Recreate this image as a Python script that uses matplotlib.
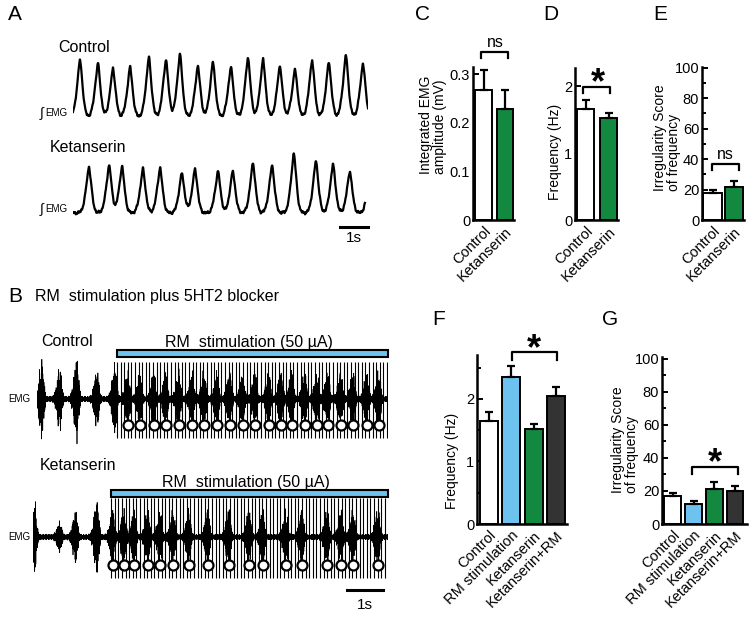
import numpy as np
import matplotlib.pyplot as plt
from matplotlib.patches import Rectangle

W, H = 754, 623
plt.rcParams['font.family'] = ['Liberation Sans', 'DejaVu Sans']

# ---------------- data ----------------
# A: integrated EMG peaks (time in s, amplitude in a.u.)
a_ctrl_t = [0.25, 0.89, 1.43, 2.04, 2.71, 3.32, 3.82, 4.46, 5.00, 5.64,
            6.25, 6.79, 7.39, 7.93, 8.54, 9.14, 9.75, 10.36]
a_ctrl_amp = [1.04, 0.98, 0.89, 0.91, 1.09, 1.05, 1.15, 0.93, 1.00, 0.91,
              1.09, 1.05, 0.93, 0.87, 1.04, 1.00, 1.13, 0.98]
a_ket_t = [-0.35, 0.57, 1.29, 1.75, 2.50, 3.11, 3.89, 4.36, 5.18, 5.71,
           6.43, 7.11, 7.89, 8.68, 9.29, 9.89, 10.62]
a_ket_amp = [0.85, 0.84, 0.87, 0.85, 0.80, 0.82, 0.73, 0.80, 0.76, 0.76,
             0.91, 0.87, 1.09, 0.95, 0.89, 0.76, 0.80]

# B: raw EMG bursts before stimulation and breaths during RM stimulation
b_ctrl_pre_t = [0.14, 0.64, 1.11, 1.67, 2.17]
b_ctrl_pre_amp = [36, 29, 37, 25, 33]
b_ctrl_breaths = [2.53, 2.86, 3.25, 3.58, 3.94, 4.31, 4.64, 5.00, 5.36, 5.72,
                  6.06, 6.44, 6.78, 7.08, 7.44, 7.78, 8.08, 8.44, 8.78, 9.17, 9.50]
b_ctrl_stim = [2.22, 9.75]
b_ket_pre_t = [0.05, 0.75, 1.19, 1.78]
b_ket_pre_amp = [32, 13, 23, 33]
b_ket_breaths = [2.22, 2.53, 2.81, 3.19, 3.53, 3.89, 4.33, 4.86, 5.44, 6.00,
                 6.39, 7.03, 7.47, 8.17, 8.56, 8.89, 9.58]
b_ket_stim = [2.17, 9.86]
stim_hz = 10

# C-G: group means and SEM
cde_groups = ['Control', 'Ketanserin']
c_amp, c_err = [0.267, 0.228], [0.041, 0.039]
d_freq, d_err = [1.66, 1.52], [0.13, 0.08]
e_irr, e_err = [17.5, 21.5], [2.0, 4.3]
fg_groups = ['Control', 'RM stimulation', 'Ketanserin', 'Ketanserin+RM']
f_freq, f_err = [1.65, 2.35, 1.52, 2.05], [0.14, 0.18, 0.08, 0.14]
g_irr, g_err = [17.0, 12.2, 21.0, 20.0], [1.7, 1.5, 4.7, 3.0]

WHITE, BLUE, GREEN, DARK = 'white', '#6EC3EE', '#13893F', '#333333'

fig = plt.figure(figsize=(W / 100, H / 100), dpi=100)


def px_axes(x0, x1, y0, y1):
    return fig.add_axes([x0 / W, 1 - y1 / H, (x1 - x0) / W, (y1 - y0) / H])


def ftext(x, y, s, **kw):
    fig.text(x / W, 1 - y / H, s, **kw)


def integrated(t, peaks, amps):
    # small ripple on the baseline
    y = (0.02 * np.sin(2 * np.pi * 6.3 * t) * np.sin(2 * np.pi * 1.9 * t)
         + 0.012 * np.sin(2 * np.pi * 17.7 * t))
    for tp, a in zip(peaks, amps):
        d = t - tp
        sig = np.where(d < 0, 0.12, 0.10)
        y += a * (0.65 * np.exp(-0.5 * (d / sig) ** 2)
                  + 0.35 * np.exp(-(np.sqrt(d ** 2 + 0.02 ** 2) - 0.02) / 0.07))
    return y


def raw_emg(t, bt, ba):
    env = 2.5 + np.zeros_like(t)
    for tb, a in zip(bt, ba):
        d = t - tb
        sig = np.where(d < 0, 0.075, 0.045)
        env += a * np.exp(-0.5 * (d / sig) ** 2)
    spikes = np.abs(np.sin(2 * np.pi * 17.3 * t) * np.cos(2 * np.pi * 6.7 * t + 0.5)) ** 0.6
    mod = 0.3 + 0.7 * spikes
    carrier = 0.6 * np.sin(2 * np.pi * 187 * t) + 0.4 * np.sin(2 * np.pi * 311 * t + 1.1)
    return env * mod * carrier / 0.85


# ---------------- A ----------------
for (y0, y1, base, peaks, amps, tend) in [
        (45, 125, 117, a_ctrl_t, a_ctrl_amp, 10.54),
        (145, 245, 213, a_ket_t, a_ket_amp, 10.43)]:
    ax = px_axes(73, 368, y0, y1)
    t = np.linspace(0, tend, 3000)
    ax.plot(t, integrated(t, peaks, amps), color='black', lw=1.6)
    ax.set_xlim(0, 10.54)
    ax.set_ylim((base - y1) / 55, (base - y0) / 55)
    ax.axis('off')
    ftext(40, base - 1, '∫', fontsize=10, va='baseline')
    ftext(45, base - 1, 'EMG', fontsize=7, va='baseline')
    if peaks is a_ket_t:
        ax.plot([9.54, 10.54], [-0.255, -0.255], color='black', lw=2.2, clip_on=False)
        ax.text(10.04, -0.455, '1s', ha='center', va='center', fontsize=11)

ftext(8, 15, 'A', fontsize=15, va='center')
ftext(58, 47, 'Control', fontsize=11.5, va='center')
ftext(50, 147, 'Ketanserin', fontsize=11.5, va='center')

# ---------------- B ----------------
ftext(8, 296, 'B', fontsize=15, va='center')
ftext(35, 297, 'RM  stimulation plus 5HT2 blocker', fontsize=11.5, va='center')

for (x0, y0, y1, base, pre_t, pre_a, breaths, stim, tend, top, bot) in [
        (37, 330, 445, 399, b_ctrl_pre_t, b_ctrl_pre_amp, b_ctrl_breaths, b_ctrl_stim, 9.75, 42, 37),
        (33, 470, 615, 537, b_ket_pre_t, b_ket_pre_amp, b_ket_breaths, b_ket_stim, 9.86, 40, 39)]:
    ax = px_axes(x0, 388, y0, y1)
    t = np.arange(0, tend, 1 / 2000)
    sig = raw_emg(t, list(pre_t) + list(breaths), list(pre_a) + [24] * len(breaths))
    ax.plot(t, sig, color='black', lw=0.5)
    pulses = np.arange(stim[0], stim[1], 1 / stim_hz)
    ax.vlines(pulses, -bot - 2, bot, color='black', lw=0.8)
    ax.plot(breaths, [-bot + 11] * len(breaths), 'o', ms=7.2, mfc='white',
            mec='black', mew=1.6, zorder=5)
    ax.add_patch(Rectangle((stim[0], top), stim[1] - stim[0], 7, facecolor=BLUE,
                           edgecolor='black', lw=1.5, clip_on=False))
    ax.text((stim[0] + stim[1]) / 2 - 0.1, top + 15, 'RM  stimulation (50 µA)',
            ha='center', va='center', fontsize=11.5)
    ax.set_xlim(0, tend)
    ax.set_ylim(base - y1, base - y0)
    ax.axis('off')
    ftext(8, base, 'EMG', fontsize=7, va='center')
    if pre_t is b_ket_pre_t:
        ax.plot([8.72, 9.72], [-53, -53], color='black', lw=2.2, clip_on=False)
        ax.text(9.22, -68, '1s', ha='center', va='center', fontsize=11)

ftext(41, 342, 'Control', fontsize=11.5, va='center')
ftext(40, 465, 'Ketanserin', fontsize=11.5, va='center')


# ---------------- bar panels ----------------
def bar_panel(box, xlim, ylim, vals, errs, labels, colors, width, major, majlab, minor):
    ax = px_axes(*box)
    x = np.arange(len(vals))
    ax.bar(x, vals, width, color=colors, edgecolor='black', linewidth=1.4, zorder=2)
    ax.errorbar(x, vals, yerr=[np.zeros(len(vals)), errs], fmt='none', ecolor='black',
                elinewidth=1.6, capsize=3.2, capthick=1.6, zorder=3)
    ax.set_xlim(*xlim)
    ax.set_ylim(*ylim)
    for s in ['top', 'right']:
        ax.spines[s].set_visible(False)
    for s in ['left', 'bottom']:
        ax.spines[s].set_linewidth(1.8)
    ax.set_yticks(major, majlab)
    ax.set_yticks(minor, minor=True)
    ax.tick_params(axis='y', which='both', direction='in', width=1.4, pad=2, labelsize=10.5)
    ax.tick_params(axis='y', which='major', length=4)
    ax.tick_params(axis='y', which='minor', length=3)
    ax.set_xticks(x, labels, rotation=45, ha='right', rotation_mode='anchor', fontsize=10.5)
    ax.tick_params(axis='x', length=0, pad=3)
    return ax


def bracket(ax, x0, x1, ytop, ylow):
    ax.plot([x0, x0, x1, x1], [ylow, ytop, ytop, ylow], color='black', lw=1.6, clip_on=False)


ax = bar_panel((473, 514, 67, 220), (-0.49, 1.42), (0, 0.315), c_amp, c_err, cde_groups,
               [WHITE, GREEN], 0.79, [0, 0.1, 0.2, 0.3], ['0', '0.1', '0.2', '0.3'],
               np.arange(0, 0.31, 0.05))
bracket(ax, -0.12, 1.14, 0.345, 0.333)
ax.text(0.53, 0.365, 'ns', ha='center', va='center', fontsize=11.5)
ftext(433, 125, 'Integrated EMG\namplitude (mV)', fontsize=10, rotation=90,
      ha='center', va='center', multialignment='left', linespacing=0.95)
ftext(415, 15, 'C', fontsize=15, va='center')

ax = bar_panel((575, 618, 68, 220), (-0.46, 1.41), (0, 2.27), d_freq, d_err, cde_groups,
               [WHITE, GREEN], 0.74, [0, 1, 2], ['0', '1', '2'], np.arange(0, 2.3, 0.5))
bracket(ax, -0.11, 1.07, 1.985, 1.9)
ax.text(0.54, 1.9, '*', ha='center', va='baseline', fontsize=26, fontweight='bold')
ftext(555, 152, 'Frequency (Hz)', fontsize=10, rotation=90, ha='center', va='center')
ftext(543, 15, 'D', fontsize=15, va='center')

ax = bar_panel((702, 744, 67, 220), (-0.49, 1.47), (0, 100.5), e_irr, e_err, cde_groups,
               [WHITE, GREEN], 0.85, np.arange(0, 101, 20), [str(v) for v in range(0, 101, 20)],
               np.arange(0, 101, 10))
bracket(ax, -0.02, 1.23, 36.8, 32.9)
ax.text(0.6, 43, 'ns', ha='center', va='center', fontsize=11.5)
ftext(667, 138, 'Irregularity Score\nof frequency', fontsize=10, rotation=90,
      ha='center', va='center', multialignment='left', linespacing=0.95)
ftext(653, 15, 'E', fontsize=15, va='center')

ax = bar_panel((477, 567, 355, 524), (-0.54, 3.49), (0, 2.7), f_freq, f_err, fg_groups,
               [WHITE, BLUE, GREEN, DARK], 0.81, [0, 1, 2], ['0', '1', '2'], np.arange(0, 2.7, 0.5))
bracket(ax, 1.03, 3.05, 2.75, 2.62)
ax.text(2.02, 2.63, '*', ha='center', va='baseline', fontsize=26, fontweight='bold')
ftext(452, 461, 'Frequency (Hz)', fontsize=10, rotation=90, ha='center', va='center')
ftext(432, 320, 'F', fontsize=15, va='center')

ax = bar_panel((662, 747, 357, 524), (-0.53, 3.58), (0, 101.2), g_irr, g_err, fg_groups,
               [WHITE, BLUE, GREEN, DARK], 0.82, np.arange(0, 101, 20),
               [str(v) for v in range(0, 101, 20)], np.arange(0, 101, 10))
bracket(ax, 0.92, 3.14, 34.5, 30.3)
ax.text(2.03, 30.5, '*', ha='center', va='baseline', fontsize=26, fontweight='bold')
ftext(625, 440, 'Irregularity Score\nof frequency', fontsize=10, rotation=90,
      ha='center', va='center', multialignment='left', linespacing=0.95)
ftext(602, 320, 'G', fontsize=15, va='center')

fig.savefig('out.png', dpi=100)
